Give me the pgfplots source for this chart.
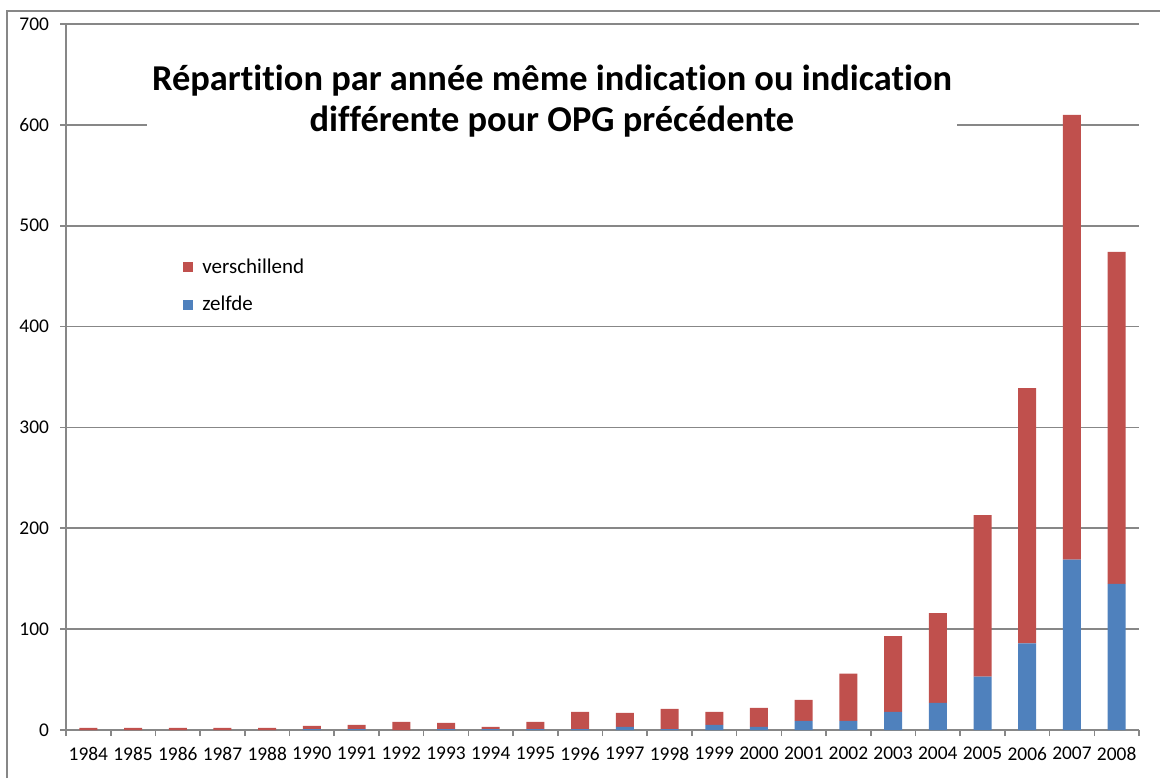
\documentclass[border=0pt]{standalone}
\usepackage{pgfplots}
\pgfplotsset{compat=1.18}
\usepackage{pgfplotstable}
\usepackage{fontspec}
\setmainfont{Carlito}[Ligatures=NoCommon]
\definecolor{exred}{HTML}{C0504D}
\definecolor{exblue}{HTML}{4F81BD}
\definecolor{exgrid}{HTML}{878787}

% index zelfde verschillend
\pgfplotstableread{
x z v
0 0 2
1 0 2
2 0 2
3 0 2
4 0 2
5 1 3
6 1 4
7 0 8
8 1 6
9 1 2
10 1 7
11 1 17
12 3 14
13 1 20
14 5 13
15 3 19
16 9 21
17 9 47
18 18 75
19 27 89
20 53 160
21 86 253
22 169 441
23 145 329
}\data

\begin{document}
\begin{tikzpicture}
\useasboundingbox (0,0) rectangle (580pt,389pt);
\draw[exgrid,line width=0.8pt] (3.5pt,0) -- (3.5pt,383.5pt) -- (582pt,383.5pt);
\begin{axis}[
  at={(33pt,24pt)},anchor=south west,
  scale only axis,width=536.5pt,height=353pt,
  ybar stacked,bar width=9pt,
  xmin=-0.5,xmax=23.5,ymin=0,ymax=700,
  axis x line*=bottom,axis y line*=left,
  axis line style={exgrid,line width=0.8pt},
  xtick={0,...,23},
  xticklabels={1984,1985,1986,1987,1988,1990,1991,1992,1993,1994,1995,1996,1997,1998,1999,2000,2001,2002,2003,2004,2005,2006,2007,2008},
  major x tick style={draw=none},
  minor xtick={-0.5,0.5,...,23.5},
  minor tick length=3pt,
  ytick={0,100,...,700},
  major tick length=3pt,
  tick align=outside,
  tick style={exgrid,line width=0.8pt},
  ymajorgrids=true,
  grid style={exgrid,line width=0.8pt},
  tick label style={font=\fontsize{9.7}{12}\selectfont},
  xticklabel style={yshift=-2pt},
  yticklabel style={xshift=-2pt},
  /pgf/number format/assume math mode=true,
  legend style={draw=none,fill=none,at={(0.109,0.674)},anchor=north west,
    font=\fontsize{10.5}{13}\selectfont,row sep=6pt,inner sep=0pt,
    nodes={inner xsep=4.5pt}},
  legend cell align=left,
  reverse legend,
  legend image code/.code={\fill[#1] (0pt,-2.5pt) rectangle (5pt,2.5pt);},
]
\addplot[fill=exblue,draw=none] table[x=x,y=z] {\data};
\addlegendentry{zelfde}
\addplot[fill=exred,draw=none] table[x=x,y=v] {\data};
\addlegendentry{verschillend}
\end{axis}
\fill[white] (73.5pt,314pt) rectangle (478.5pt,369pt);
\node[anchor=base,font=\bfseries\fontsize{18.2}{21}\selectfont,inner sep=0pt] at (276pt,343.5pt) {Répartition par année même indication ou indication};
\node[anchor=base,font=\bfseries\fontsize{18.2}{21}\selectfont,inner sep=0pt] at (276pt,323pt) {différente pour OPG précédente};
\end{tikzpicture}
\end{document}
